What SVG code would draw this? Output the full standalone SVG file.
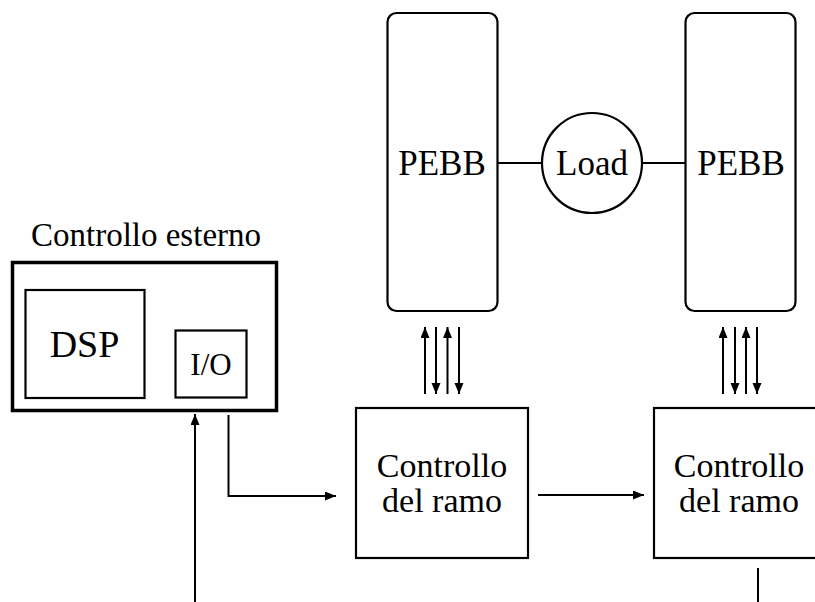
<svg xmlns="http://www.w3.org/2000/svg" width="815" height="602" viewBox="0 0 815 602">
<style>
text{fill:#000;text-anchor:middle;font-family:'Liberation Serif','Times New Roman',Times,serif}
.box{fill:none;stroke:#000;stroke-width:2.2}
.ln{fill:none;stroke:#000;stroke-width:2}
</style>
<defs>
<marker id="ah" markerUnits="userSpaceOnUse" markerWidth="12" markerHeight="10" refX="11" refY="4.5" orient="auto">
<path d="M0,0 L11,4.5 L0,9 z" fill="#000"/>
</marker>
</defs>
<rect width="815" height="602" fill="#fff"/>
<g id="pebb1">
<rect class="box" x="387.5" y="13" width="110" height="298" rx="9"/>
<text x="442" y="175" font-size="35">PEBB</text>
</g>
<g id="load">
<circle class="box" cx="592" cy="163" r="50"/>
<text x="592" y="175" font-size="35">Load</text>
</g>
<g id="pebb2">
<rect class="box" x="685.5" y="13" width="110" height="298" rx="9"/>
<text x="741" y="175" font-size="35">PEBB</text>
</g>
<g id="ext">
<text x="146" y="246" font-size="33">Controllo esterno</text>
<rect fill="none" stroke="#000" stroke-width="3.5" x="12.5" y="262.5" width="264" height="148"/>
</g>
<g id="dsp">
<rect class="box" x="25.5" y="290" width="119" height="108"/>
<text x="84.5" y="357" font-size="38">DSP</text>
</g>
<g id="io">
<rect class="box" x="175.5" y="330.5" width="71" height="67"/>
<text x="211" y="375" font-size="31">I/O</text>
</g>
<g id="ctrl1">
<rect class="box" x="356" y="408" width="172" height="150"/>
<text x="442" y="477" font-size="34">Controllo</text>
<text x="442" y="512" font-size="34">del ramo</text>
</g>
<g id="ctrl2">
<rect class="box" x="654" y="408" width="172" height="150"/>
<text x="739" y="477" font-size="34">Controllo</text>
<text x="739" y="512" font-size="34">del ramo</text>
</g>
<g id="connectors">
<line class="ln" x1="497.5" y1="163" x2="542" y2="163"/>
<line class="ln" x1="642" y1="163" x2="685.5" y2="163"/>
<line class="ln" x1="425" y1="394" x2="425" y2="327" marker-end="url(#ah)"/>
<line class="ln" x1="436" y1="327" x2="436" y2="394" marker-end="url(#ah)"/>
<line class="ln" x1="447.5" y1="394" x2="447.5" y2="327" marker-end="url(#ah)"/>
<line class="ln" x1="459" y1="327" x2="459" y2="394" marker-end="url(#ah)"/>
<line class="ln" x1="723" y1="394" x2="723" y2="327" marker-end="url(#ah)"/>
<line class="ln" x1="735" y1="327" x2="735" y2="394" marker-end="url(#ah)"/>
<line class="ln" x1="746" y1="394" x2="746" y2="327" marker-end="url(#ah)"/>
<line class="ln" x1="757" y1="327" x2="757" y2="394" marker-end="url(#ah)"/>
<path class="ln" d="M228.5,415 V496 H336" marker-end="url(#ah)"/>
<line class="ln" x1="195" y1="602" x2="195" y2="414" marker-end="url(#ah)"/>
<line class="ln" x1="538" y1="495" x2="644" y2="495" marker-end="url(#ah)"/>
<line class="ln" x1="758" y1="568" x2="758" y2="602"/>
</g>
</svg>
